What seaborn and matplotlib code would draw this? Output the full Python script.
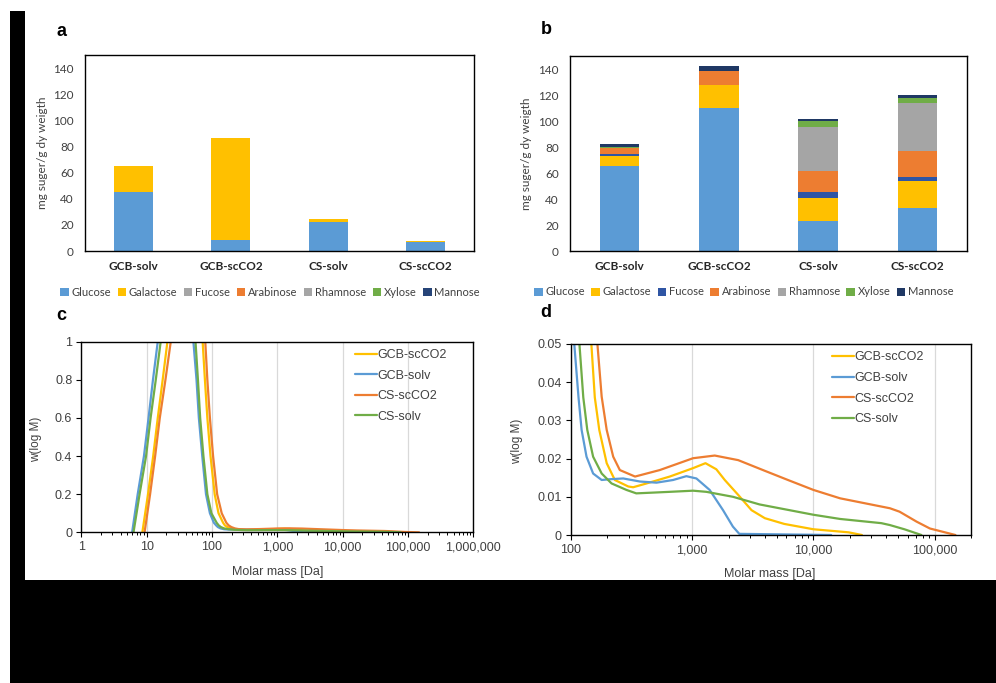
import matplotlib
matplotlib.use('Agg')
import matplotlib.pyplot as plt
from matplotlib.patches import Patch, Rectangle
from matplotlib.ticker import FuncFormatter, LogLocator, NullFormatter
import pandas as pd
import seaborn as sns

# ---- data -------------------------------------------------------------
samples = ['GCB-solv', 'GCB-scCO2', 'CS-solv', 'CS-scCO2']
sugars = ['Glucose', 'Galactose', 'Fucose', 'Arabinose', 'Rhamnose', 'Xylose', 'Mannose']

# panel a, mg sugar / g dry weight, one value per sample
a_glucose = [44.8, 8.6, 22.1, 6.9]
a_galactose = [20.1, 77.9, 2.1, 0.7]
a_fucose = [0, 0, 0, 0]
a_arabinose = [0, 0, 0, 0]
a_rhamnose = [0, 0, 0, 0]
a_xylose = [0, 0, 0, 0]
a_mannose = [0, 0, 0, 0]

# panel b
b_glucose = [65.1, 110.0, 23.0, 33.0]
b_galactose = [7.7, 17.5, 17.9, 20.9]
b_fucose = [1.8, 0.5, 4.3, 3.3]
b_arabinose = [4.6, 10.2, 16.6, 20.0]
b_rhamnose = [0, 0, 33.7, 36.4]
b_xylose = [1.0, 0.5, 4.7, 3.9]
b_mannose = [2.1, 3.3, 1.1, 2.8]

colors_a = ['#5B9BD5', '#FFC000', '#A5A5A5', '#ED7D31', '#A5A5A5', '#70AD47', '#264478']
colors_b = ['#5B9BD5', '#FFC000', '#2F55A4', '#ED7D31', '#A5A5A5', '#70AD47', '#1F3864']

# molar mass distributions (molar mass in Da, w(log M))
gcb_scco2_m = [8.6, 10.5, 12.6, 14.8, 17.6, 20.8, 38, 72, 78, 85, 95, 110, 126, 148, 158,
               172, 198, 231, 298, 327, 422, 655, 1019, 1290, 1585, 1860, 2400, 3090,
               3980, 5750, 10000, 19500, 25100]
gcb_scco2_w = [0, 0.2, 0.4, 0.6, 0.8, 1.0, 1.7, 1.0, 0.8, 0.6, 0.4, 0.2, 0.1, 0.05, 0.036,
               0.0275, 0.0188, 0.0144, 0.0127, 0.0125, 0.0135, 0.0153, 0.0175, 0.0188, 0.0172,
               0.0144, 0.0105, 0.0065, 0.0044, 0.0029, 0.0015, 0.0007, 0]

gcb_solv_m = [6.0, 7.3, 9.1, 10.7, 12.5, 14.8, 28, 52, 58, 63, 71, 81, 93, 107, 116, 123,
              135, 153, 180, 210, 271, 372, 509, 698, 897, 1086, 1396, 1800, 2170, 2450, 14000]
gcb_solv_w = [0, 0.2, 0.4, 0.6, 0.8, 1.0, 1.7, 1.0, 0.8, 0.6, 0.4, 0.2, 0.1, 0.05, 0.036,
              0.0275, 0.0205, 0.0161, 0.0144, 0.0146, 0.0148, 0.014, 0.0137, 0.0144, 0.0154,
              0.0148, 0.0118, 0.0065, 0.0022, 0.0003, 0]

cs_scco2_m = [9.3, 11.3, 13.5, 15.9, 19.4, 23.4, 42, 79, 85, 93, 104, 120, 141, 166, 180,
              198, 224, 254, 339, 542, 1019, 1538, 2400, 3980, 6170, 10000, 16600, 42700,
              51300, 70800, 91200, 148000]
cs_scco2_w = [0, 0.2, 0.4, 0.6, 0.8, 1.0, 1.7, 1.0, 0.8, 0.6, 0.4, 0.2, 0.1, 0.05, 0.0362,
              0.0275, 0.0205, 0.017, 0.0153, 0.017, 0.0201, 0.0208, 0.0196, 0.0168, 0.0144,
              0.0118, 0.0096, 0.0070, 0.0061, 0.0035, 0.0017, 0]

cs_solv_m = [6.3, 7.8, 9.8, 11.5, 13.8, 16.4, 30, 56, 61, 66, 74, 85, 98, 118, 127, 137,
             153, 180, 217, 288, 347, 479, 655, 1019, 1312, 2173, 3600, 10000, 16600,
             36300, 42700, 56200, 77600]
cs_solv_w = [0, 0.2, 0.4, 0.6, 0.8, 1.0, 1.7, 1.0, 0.8, 0.6, 0.4, 0.2, 0.1, 0.05, 0.036,
             0.0275, 0.0205, 0.0161, 0.0135, 0.0118, 0.0109, 0.0111, 0.0113, 0.0116, 0.0113,
             0.0100, 0.0080, 0.0053, 0.0042, 0.0031, 0.0026, 0.0015, 0]

series_names = ['GCB-scCO2', 'GCB-solv', 'CS-scCO2', 'CS-solv']
series_m = [gcb_scco2_m, gcb_solv_m, cs_scco2_m, cs_solv_m]
series_w = [gcb_scco2_w, gcb_solv_w, cs_scco2_w, cs_solv_w]
series_colors = ['#FFC000', '#5B9BD5', '#ED7D31', '#70AD47']

# ---- style ------------------------------------------------------------
sns.set_theme(style='white')
plt.rcParams['font.family'] = ['Liberation Sans', 'DejaVu Sans']
TXT = '#404040'

fig = plt.figure(figsize=(9.96, 6.83), dpi=100)
fig.patch.set_facecolor('white')
W, H = 996, 683


def px_axes(x0, x1, y0, y1):
    return fig.add_axes([x0 / W, 1 - y1 / H, (x1 - x0) / W, (y1 - y0) / H])


def stacked(ax, comps, colors, leg_x, ylab_x):
    df = pd.DataFrame({'sample': samples})
    tops = []
    run = [0] * len(samples)
    for vals in comps:
        run = [r + v for r, v in zip(run, vals)]
        tops.append(run)
    # draw from the top of the stack down so lower parts cover upper ones
    for top, col in zip(reversed(tops), reversed(colors)):
        df['top'] = top
        sns.barplot(data=df, x='sample', y='top', order=samples, color=col, width=0.4,
                    saturation=1, linewidth=0, errorbar=None, ax=ax)
    ax.set_ylim(0, 150)
    ax.set_xlim(-0.5, 3.5)
    ax.set_yticks(range(0, 141, 20))
    ax.set_xlabel('')
    ax.set_ylabel('mg suger/g dy weigth', fontfamily='Lato', fontsize=8.5, color=TXT)
    ax.yaxis.set_label_coords(ylab_x, 0.5)
    ax.tick_params(axis='both', length=0, colors=TXT)
    ax.tick_params(axis='y', pad=8, labelsize=8.5)
    ax.tick_params(axis='x', pad=7, labelsize=8.5)
    for lab in ax.get_yticklabels():
        lab.set_fontfamily('Lato')
    for lab in ax.get_xticklabels():
        lab.set_fontfamily('Lato')
        lab.set_fontweight('bold')
        lab.set_color('#262626')
    for sp in ax.spines.values():
        sp.set_visible(True)
        sp.set_color('black')
        sp.set_linewidth(1)
    handles = [Patch(facecolor=c, edgecolor='none') for c in colors]
    ax.legend(handles, sugars, loc='center', bbox_to_anchor=(leg_x, -0.21), ncol=7,
              frameon=False, handlelength=0.75, handleheight=0.75, handletextpad=0.25,
              columnspacing=0.6, prop={'family': 'Lato', 'size': 8}, labelcolor=TXT)


def mmd(ax, xlim, ylim, yticks, leg_x):
    for name, m, w, col in zip(series_names, series_m, series_w, series_colors):
        sns.lineplot(x=m, y=w, ax=ax, color=col, lw=1.6, sort=False, estimator=None,
                     label=name)
    ax.set_xscale('log')
    ax.set_xlim(*xlim)
    ax.set_ylim(*ylim)
    ax.set_yticks(yticks)
    ax.yaxis.set_major_formatter(FuncFormatter(lambda v, p: f'{v:g}'))
    ax.xaxis.set_major_locator(LogLocator(base=10, numticks=20))
    ax.xaxis.set_minor_locator(LogLocator(base=10, subs=range(2, 10), numticks=100))
    ax.xaxis.set_major_formatter(FuncFormatter(lambda v, p: f'{v:,.0f}'))
    ax.xaxis.set_minor_formatter(NullFormatter())
    ax.grid(axis='x', which='major', color='#D9D9D9', lw=0.9)
    ax.set_axisbelow(True)
    ax.tick_params(axis='both', which='major', direction='out', length=3.5, width=0.8,
                   color='black', labelsize=9, labelcolor=TXT, pad=3, bottom=True, left=True)
    ax.tick_params(axis='x', which='minor', direction='out', length=2.5, width=0.7,
                   color='black', bottom=True)
    ax.set_xlabel('Molar mass [Da]', fontsize=9, color=TXT)
    ax.set_ylabel('w(log M)', fontsize=8.5, color=TXT)
    for sp in ax.spines.values():
        sp.set_visible(True)
        sp.set_color('black')
        sp.set_linewidth(1)
    ax.legend(loc='upper left', bbox_to_anchor=(leg_x, 1.0), frameon=False, fontsize=9,
              handlelength=1.75, handletextpad=0.05, labelspacing=0.68, borderaxespad=0.2,
              labelcolor=TXT)


ax_a = px_axes(85, 474, 55, 251)
stacked(ax_a, [a_glucose, a_galactose, a_fucose, a_arabinose, a_rhamnose, a_xylose,
               a_mannose], colors_a, 0.476, -0.095)

ax_b = px_axes(570, 967, 56, 251)
stacked(ax_b, [b_glucose, b_galactose, b_fucose, b_arabinose, b_rhamnose, b_xylose,
               b_mannose], colors_b, 0.438, -0.096)

ax_c = px_axes(81.3, 473.3, 341.7, 532.3)
mmd(ax_c, (1, 1e6), (0, 1), [0, 0.2, 0.4, 0.6, 0.8, 1.0], 0.68)
ax_c.yaxis.set_label_coords(-0.10, 0.49)
ax_c.xaxis.set_label_coords(0.5, -0.177)

ax_d = px_axes(570.7, 971.3, 344, 535)
mmd(ax_d, (100, 2e5), (0, 0.05), [0, 0.01, 0.02, 0.03, 0.04, 0.05], 0.633)
ax_d.yaxis.set_label_coords(-0.119, 0.49)
ax_d.xaxis.set_label_coords(0.497, -0.174)

# panel letters
for lab, x, y in [('a', 61, 31), ('b', 546, 30), ('c', 61, 316), ('d', 546, 313)]:
    fig.text(x / W, 1 - y / H, lab, ha='center', va='center', fontsize=13,
             fontweight='bold', color='black')

# black margins of the original scan
fig.patches.append(Rectangle((10 / W, 0), 15 / W, (H - 11) / H, transform=fig.transFigure,
                             facecolor='black', edgecolor='none'))
fig.patches.append(Rectangle((10 / W, 0), (W - 10) / W, 103 / H, transform=fig.transFigure,
                             facecolor='black', edgecolor='none'))

fig.savefig('out.png', dpi=100, facecolor='white')
